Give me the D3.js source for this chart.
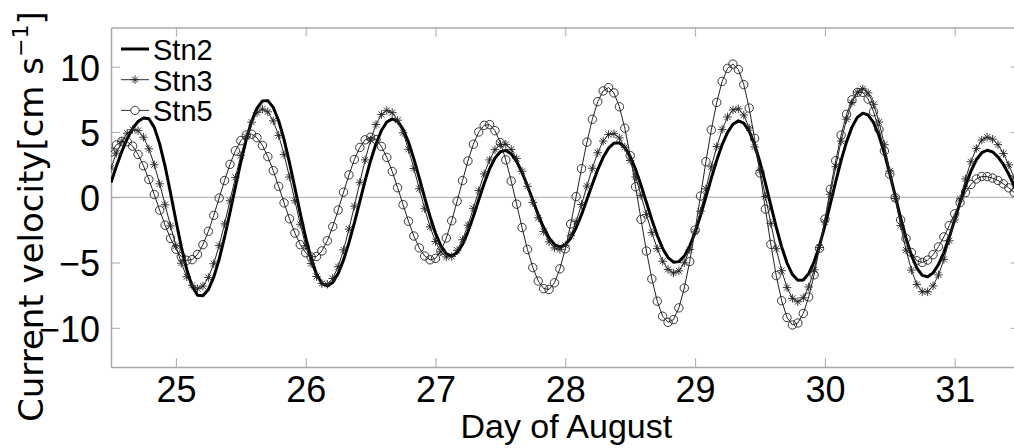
<!DOCTYPE html>
<html>
<head>
<meta charset="utf-8">
<script src="https://cdn.jsdelivr.net/npm/d3@7"></script>
<style>
  body { margin: 0; background: #fff; }
</style>
</head>
<body>
<div id="chart"></div>
<script>
// ===========Data: hourly current velocity [cm/s], first sample at day 24.5
var startDay = 24.5;
var stepDays = 1 / 24;

var stn2 = [1.13, 2.38, 3.51, 4.49, 5.27, 5.80, 6.07,
  6.01, 5.35, 4.09, 2.37, 0.35, -1.78, -3.80, -5.53, -6.81, -7.50,
  -7.55, -7.07, -6.12, -4.75, -3.06, -1.17, 0.79, 2.69, 4.41, 5.82, 6.83, 7.37,
  7.40, 6.88, 5.86, 4.42, 2.65, 0.72, -1.25, -3.10, -4.68, -5.89, -6.61,
  -6.79, -6.52, -5.84, -4.80, -3.48, -1.96, -0.34, 1.29, 2.80, 4.10, 5.11, 5.76, 6.00,
  5.82, 5.20, 4.22, 2.94, 1.48, -0.04, -1.49, -2.76, -3.73, -4.33,
  -4.50, -4.24, -3.61, -2.65, -1.47, -0.19, 1.06, 2.17, 3.00, 3.49,
  3.59, 3.32, 2.74, 1.90, 0.88, -0.24, -1.34, -2.32, -3.11, -3.62, -3.80,
  -3.64, -3.14, -2.34, -1.33, -0.18, 1.00, 2.12, 3.06, 3.76, 4.14,
  4.17, 3.82, 3.12, 2.13, 0.92, -0.40, -1.72, -2.93, -3.92, -4.62, -4.97,
  -4.93, -4.51, -3.74, -2.68, -1.40, 0.02, 1.46, 2.83, 4.03, 4.97, 5.59, 5.85,
  5.68, 5.06, 4.03, 2.68, 1.08, -0.62, -2.28, -3.80, -5.04, -5.92, -6.36,
  -6.33, -5.85, -4.95, -3.71, -2.19, -0.52, 1.19, 2.82, 4.24, 5.37, 6.12, 6.44,
  6.30, 5.71, 4.71, 3.37, 1.80, 0.11, -1.58, -3.14, -4.45, -5.42, -5.98,
  -6.09, -5.79, -5.15, -4.22, -3.05, -1.73, -0.39, 0.88, 2.00, 2.87, 3.41, 3.60,
  3.47, 3.10, 2.51, 1.76, 0.88, -0.03];

var stn3 = [2.24, 3.38, 4.28, 4.90, 5.18,
  5.10, 4.60, 3.71, 2.49, 1.03, -0.57, -2.19, -3.72, -5.05, -6.09, -6.75, -7.00,
  -6.80, -6.15, -5.09, -3.69, -2.04, -0.27, 1.52, 3.19, 4.63, 5.75, 6.48, 6.75,
  6.54, 5.85, 4.73, 3.27, 1.55, -0.27, -2.07, -3.71, -5.08, -6.07, -6.61,
  -6.66, -6.22, -5.32, -4.03, -2.44, -0.68, 1.14, 2.86, 4.38, 5.57, 6.34, 6.65,
  6.48, 5.90, 4.94, 3.67, 2.20, 0.65, -0.88, -2.27, -3.39, -4.18, -4.57,
  -4.53, -4.07, -3.25, -2.14, -0.85, 0.51, 1.79, 2.86, 3.65, 4.05,
  4.05, 3.67, 2.96, 1.99, 0.84, -0.40, -1.58, -2.62, -3.41, -3.88,
  -3.99, -3.68, -2.95, -1.87, -0.56, 0.85, 2.22, 3.41, 4.30, 4.81,
  4.87, 4.54, 3.83, 2.81, 1.55, 0.13, -1.32, -2.71, -3.93, -4.90, -5.53, -5.80,
  -5.64, -5.02, -4.00, -2.65, -1.07, 0.64, 2.33, 3.88, 5.19, 6.15, 6.69,
  6.77, 6.30, 5.31, 3.85, 2.06, 0.06, -2.00, -3.94, -5.62, -6.92, -7.74,
  -8.00, -7.70, -6.87, -5.56, -3.85, -1.88, 0.23, 2.34, 4.30, 5.97, 7.25, 8.05,
  8.30, 7.99, 7.12, 5.77, 4.03, 2.01, -0.10, -2.17, -4.04, -5.58, -6.68, -7.23,
  -7.24, -6.79, -5.95, -4.76, -3.33, -1.74, -0.12, 1.40, 2.72, 3.74, 4.38, 4.60,
  4.45, 4.03, 3.35, 2.48, 1.47, 0.42];

var stn5 = [3.46, 4.01, 4.28,
  4.25, 3.91, 3.28, 2.41, 1.36, 0.21, -0.99, -2.14, -3.15, -3.98, -4.55, -4.83,
  -4.78, -4.38, -3.63, -2.61, -1.39, -0.06, 1.28, 2.52, 3.56, 4.33, 4.76,
  4.83, 4.56, 3.97, 3.11, 2.04, 0.83, -0.43, -1.65, -2.74, -3.63, -4.25, -4.57,
  -4.54, -4.11, -3.33, -2.25, -0.98, 0.39, 1.71, 2.89, 3.81, 4.40, 4.60,
  4.42, 3.89, 3.05, 1.97, 0.73, -0.57, -1.84, -2.97, -3.88, -4.50, -4.79,
  -4.68, -4.10, -3.12, -1.80, -0.30, 1.28, 2.78, 4.06, 5.00, 5.51,
  5.56, 5.10, 4.18, 2.86, 1.24, -0.53, -2.32, -4.00, -5.39, -6.42, -7.00,
  -7.06, -6.55, -5.48, -3.95, -2.05, 0.05, 2.19, 4.22, 5.97, 7.32, 8.14,
  8.40, 7.99, 6.93, 5.29, 3.19, 0.80, -1.70, -4.12, -6.25, -7.96, -9.11, -9.58,
  -9.37, -8.47, -6.95, -4.92, -2.51, 0.09, 2.72, 5.16, 7.26, 8.87, 9.87,
  10.20, 9.78, 8.63, 6.83, 4.51, 1.86, -0.91, -3.61, -6.00, -7.92, -9.21, -9.78,
  -9.63, -8.90, -7.64, -5.94, -3.91, -1.67, 0.61, 2.80, 4.76, 6.35, 7.46, 8.03,
  8.03, 7.52, 6.55, 5.19, 3.55, 1.77, -0.03, -1.73, -3.16, -4.23, -4.86,
  -4.99, -4.81, -4.40, -3.80, -3.03, -2.17, -1.27, -0.41, 0.36, 0.98, 1.40, 1.59,
  1.58, 1.47, 1.29, 1.03, 0.72, 0.37, 0.00];

var seriesNames = ["Stn2", "Stn3", "Stn5"];
var xTicks = [25, 26, 27, 28, 29, 30, 31];
var yTicks = [-10, -5, 0, 5, 10];
var xDomain = [24.5, 31.5];
var yDomain = [-13, 13];

// ===========Set Height, Width and Margins
var svgWidth = 1014;
var svgHeight = 448;
var margin = { top: 27.5, left: 111 };
var width = 908.6;
var height = 339.5;

var axisColor = "#a8a8a8";
var tickFont = "'Liberation Sans', Arial, sans-serif";

var svg = d3.select("#chart").append("svg")
  .attr("width", svgWidth)
  .attr("height", svgHeight);

var chartGroup = svg.append("g")
  .attr("transform", `translate(${margin.left}, ${margin.top})`);

// ==========Scales
var xScale = d3.scaleLinear().domain(xDomain).range([0, width]);
var yScale = d3.scaleLinear().domain(yDomain).range([height, 0]);

// ==========Zero line
chartGroup.append("line")
  .attr("x1", 0).attr("x2", width)
  .attr("y1", yScale(0)).attr("y2", yScale(0))
  .attr("stroke", axisColor)
  .attr("stroke-width", 1);

// ==========Axes (ticks point inward, box on)
function styleAxis(g, withText) {
  g.select(".domain").attr("stroke", axisColor).attr("stroke-width", 1.5);
  g.selectAll(".tick line").attr("stroke", axisColor).attr("stroke-width", 1);
  g.attr("font-family", tickFont).attr("font-size", 36);
  if (withText) g.selectAll(".tick text").attr("fill", "#000");
}

var bottomAxis = chartGroup.append("g")
  .attr("transform", `translate(0, ${height})`)
  .call(d3.axisBottom(xScale).tickValues(xTicks).tickFormat(d3.format("d"))
    .tickSizeInner(-9).tickSizeOuter(0).tickPadding(9));
styleAxis(bottomAxis, true);

var topAxis = chartGroup.append("g")
  .call(d3.axisTop(xScale).tickValues(xTicks).tickSizeInner(-9).tickSizeOuter(0).tickFormat(""));
styleAxis(topAxis, false);

var leftAxis = chartGroup.append("g")
  .call(d3.axisLeft(yScale).tickValues(yTicks).tickSizeInner(-9).tickSizeOuter(0).tickPadding(11));
styleAxis(leftAxis, true);
leftAxis.selectAll(".tick text").attr("dy", "0.37em");

var rightAxis = chartGroup.append("g")
  .attr("transform", `translate(${width}, 0)`)
  .call(d3.axisRight(yScale).tickValues(yTicks).tickSizeInner(-9).tickSizeOuter(0).tickFormat(""));
styleAxis(rightAxis, false);

// ==========Series
var asterisk = {
  draw: function(ctx, size) {
    var r = Math.sqrt(size) / 2;
    var q = r * 0.7071;
    ctx.moveTo(-r, 0); ctx.lineTo(r, 0);
    ctx.moveTo(0, -r); ctx.lineTo(0, r);
    ctx.moveTo(-q, -q); ctx.lineTo(q, q);
    ctx.moveTo(-q, q); ctx.lineTo(q, -q);
  }
};

var dayOf = function(i) { return startDay + i * stepDays; };

var line = d3.line()
  .x((d, i) => xScale(dayOf(i)))
  .y(d => yScale(d));

svg.append("clipPath").attr("id", "plotClip")
  .append("rect").attr("width", width).attr("height", height);

var plotArea = chartGroup.append("g").attr("clip-path", "url(#plotClip)");

// Stn2 - thick solid line
plotArea.append("path")
  .datum(stn2)
  .attr("d", line)
  .attr("fill", "none")
  .attr("stroke", "#000")
  .attr("stroke-width", 3)
  .attr("stroke-linejoin", "round");

// Stn3 - thin line with asterisks
plotArea.append("path")
  .datum(stn3)
  .attr("d", line)
  .attr("fill", "none")
  .attr("stroke", "#222")
  .attr("stroke-width", 1);

plotArea.selectAll(".m3")
  .data(stn3)
  .enter()
  .append("path")
  .attr("class", "m3")
  .attr("transform", (d, i) => `translate(${xScale(dayOf(i))}, ${yScale(d)})`)
  .attr("d", d3.symbol().type(asterisk).size(72))
  .attr("fill", "none")
  .attr("stroke", "#222")
  .attr("stroke-width", 0.9);

// Stn5 - thin line with open circles
plotArea.append("path")
  .datum(stn5)
  .attr("d", line)
  .attr("fill", "none")
  .attr("stroke", "#222")
  .attr("stroke-width", 1);

plotArea.selectAll(".m5")
  .data(stn5)
  .enter()
  .append("circle")
  .attr("class", "m5")
  .attr("cx", (d, i) => xScale(dayOf(i)))
  .attr("cy", d => yScale(d))
  .attr("r", 4.2)
  .attr("fill", "none")
  .attr("stroke", "#222")
  .attr("stroke-width", 0.9);

// ==========Legend (no box)
var legend = chartGroup.append("g").attr("transform", "translate(10, 21.5)");
var rowGap = 30.7;

seriesNames.forEach(function(name, i) {
  var row = legend.append("g").attr("transform", `translate(0, ${i * rowGap})`);
  row.append("line")
    .attr("x1", 0).attr("x2", 28)
    .attr("y1", 0).attr("y2", 0)
    .attr("stroke", i === 0 ? "#000" : "#333")
    .attr("stroke-width", i === 0 ? 3 : 1);
  if (i === 1) {
    row.append("path")
      .attr("transform", "translate(14, 0)")
      .attr("d", d3.symbol().type(asterisk).size(72))
      .attr("fill", "none").attr("stroke", "#222").attr("stroke-width", 0.9);
  }
  if (i === 2) {
    row.append("circle")
      .attr("cx", 14).attr("cy", 0).attr("r", 4.2)
      .attr("fill", "#fff").attr("stroke", "#222").attr("stroke-width", 0.9);
  }
  row.append("text")
    .attr("x", 32)
    .attr("y", 11)
    .attr("font-family", tickFont)
    .attr("font-size", 29)
    .attr("fill", "#000")
    .text(name);
});

// ==========Axis labels
svg.append("text")
  .attr("x", margin.left + width / 2 + 1)
  .attr("y", 438)
  .attr("text-anchor", "middle")
  .attr("font-family", tickFont)
  .attr("font-size", 34)
  .attr("fill", "#000")
  .text("Day of August");

var yLabel = svg.append("text")
  .attr("transform", "translate(43, 422) rotate(-90)")
  .attr("text-anchor", "start")
  .attr("font-family", "'DejaVu Sans', sans-serif")
  .attr("font-size", 34)
  .attr("fill", "#000");
yLabel.append("tspan").text("Current velocity[cm s");
yLabel.append("tspan").attr("font-size", 22).attr("dy", -15).text("\u22121");
yLabel.append("tspan").attr("dy", 15).text("]");
</script>
</body>
</html>
